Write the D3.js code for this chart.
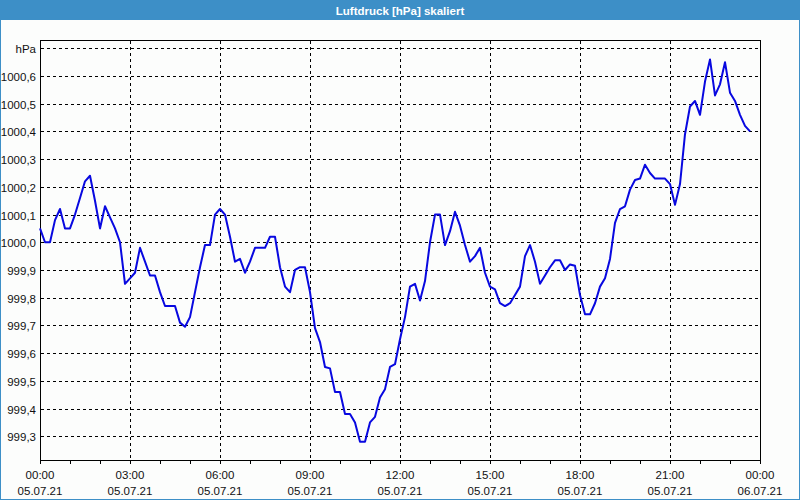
<!DOCTYPE html>
<html>
<head>
<meta charset="utf-8">
<script src="https://cdn.jsdelivr.net/npm/d3@7"></script>
<style>
  html, body { margin: 0; padding: 0; background: #fcfdfc; }
  svg { display: block; }
</style>
</head>
<body>
<svg id="chart" width="800" height="500"></svg>
<script>
const title = "Luftdruck [hPa] skaliert";
const unitLabel = "hPa";
// start time and sampling step (minutes)
const startTime = new Date(2021, 6, 5, 0, 0);
const stepMinutes = 10;
// pressure values, one every 10 minutes from 05.07.21 00:00
const pressure = [
  1000.05, 1000.00, 1000.00, 1000.08, 1000.12, 1000.05, 1000.05, 1000.10, 1000.16, 1000.22,
  1000.24, 1000.15, 1000.05, 1000.13, 1000.09, 1000.05, 1000.00, 999.85, 999.87, 999.89,
  999.98, 999.93, 999.88, 999.88, 999.82, 999.77, 999.77, 999.77, 999.71, 999.695,
  999.73, 999.82, 999.91, 999.99, 999.99, 1000.10, 1000.12, 1000.10, 1000.02, 999.93,
  999.94, 999.89, 999.93, 999.98, 999.98, 999.98, 1000.02, 1000.02, 999.91, 999.84,
  999.82, 999.90, 999.91, 999.91, 999.82, 999.69, 999.64, 999.55, 999.545, 999.46,
  999.46, 999.38, 999.38, 999.35, 999.28, 999.28, 999.35, 999.37, 999.44, 999.47,
  999.55, 999.56, 999.65, 999.73, 999.84, 999.85, 999.79, 999.86, 1000.00, 1000.10,
  1000.10, 999.99, 1000.04, 1000.11, 1000.06, 999.99, 999.93, 999.95, 999.98, 999.89,
  999.84, 999.83, 999.78, 999.77, 999.78, 999.81, 999.84, 999.95, 999.99, 999.93,
  999.85, 999.88, 999.91, 999.935, 999.935, 999.90, 999.92, 999.915, 999.81, 999.74,
  999.74, 999.78, 999.84, 999.87, 999.94, 1000.07, 1000.12, 1000.13, 1000.19, 1000.225,
  1000.23, 1000.28, 1000.25, 1000.23, 1000.23, 1000.23, 1000.21, 1000.135, 1000.21, 1000.39,
  1000.49, 1000.51, 1000.46, 1000.58, 1000.66, 1000.53, 1000.57, 1000.65, 1000.54, 1000.51,
  1000.46, 1000.42, 1000.40
];
const yTicks = [999.3, 999.4, 999.5, 999.6, 999.7, 999.8, 999.9, 1000.0, 1000.1, 1000.2, 1000.3, 1000.4, 1000.5, 1000.6, 1000.7];
const yDomain = [999.2125, 1000.73];
const xDomain = [new Date(2021, 6, 5, 0, 0), new Date(2021, 6, 6, 0, 0)];

const svg = d3.select("#chart");
const W = 800, H = 500;
const m = { left: 40, right: 40, top: 40, bottom: 39.5 };

// window chrome
svg.append("rect").attr("x", 0).attr("y", 0).attr("width", W).attr("height", H).attr("fill", "#fcfdfc");
svg.append("rect").attr("x", 0).attr("y", 0).attr("width", W).attr("height", 20).attr("fill", "#3d8fc7");
svg.append("rect").attr("x", 0.5).attr("y", 0.5).attr("width", W - 1).attr("height", H - 1)
  .attr("fill", "none").attr("stroke", "#3d8fc7").attr("stroke-width", 1);
svg.append("text").attr("x", 400).attr("y", 14.5).attr("text-anchor", "middle")
  .attr("fill", "#ffffff").attr("font-family", "Liberation Sans, Arial, sans-serif")
  .attr("font-weight", "bold").attr("font-size", 11.5).text(title);

const data = pressure.map((v, i) => ({ t: new Date(startTime.getTime() + i * stepMinutes * 60000), v }));

const x = d3.scaleTime().domain(xDomain).range([40, 760]);
const y = d3.scaleLinear().domain(yDomain).range([460.5, 40]);

const font = "Liberation Sans, Arial, sans-serif";

// grid
const g = svg.append("g").attr("shape-rendering", "crispEdges");
g.selectAll(".hg").data(yTicks).join("line")
  .attr("x1", 41).attr("x2", 760)
  .attr("y1", d => Math.round(y(d)) + 0.5).attr("y2", d => Math.round(y(d)) + 0.5)
  .attr("stroke", "#000").attr("stroke-dasharray", "3,3");
const vTicks = d3.range(3, 24, 3).map(h => new Date(2021, 6, 5, h, 0));
g.selectAll(".vg").data(vTicks).join("line")
  .attr("x1", d => Math.round(x(d)) + 0.5).attr("x2", d => Math.round(x(d)) + 0.5)
  .attr("y1", 41).attr("y2", 460)
  .attr("stroke", "#000").attr("stroke-dasharray", "3,3");

// frame (top, right, left, bottom)
g.append("rect").attr("x", 40.5).attr("y", 40.5).attr("width", 719.5).attr("height", 420)
  .attr("fill", "none").attr("stroke", "#000");

// x axis
const xAxis = d3.axisBottom(x)
  .ticks(d3.timeHour.every(1))
  .tickSize(3)
  .tickFormat(() => "");
const xa = svg.append("g").attr("transform", "translate(0,460.5)").call(xAxis);
xa.select(".domain").remove();
xa.selectAll(".tick line").attr("stroke", "#000").attr("shape-rendering", "crispEdges");

const labelTicks = d3.range(0, 25, 3).map(h => new Date(2021, 6, 5, h, 0));
const fmtT = d3.timeFormat("%H:%M"), fmtD = d3.timeFormat("%d.%m.%y");
const lbl = svg.append("g").attr("font-family", font).attr("font-size", 11.5).attr("fill", "#111");
lbl.selectAll(".t1").data(labelTicks).join("text")
  .attr("x", d => x(d)).attr("y", 479).attr("text-anchor", "middle").text(d => fmtT(d));
lbl.selectAll(".t2").data(labelTicks).join("text")
  .attr("x", d => x(d)).attr("y", 495).attr("text-anchor", "middle").text(d => fmtD(d));

// y labels
const fmtY = v => d3.format(".1f")(v).replace(".", ",");
lbl.selectAll(".yl").data(yTicks).join("text")
  .attr("x", 36).attr("y", d => Math.round(y(d)) + 4.5).attr("text-anchor", "end")
  .text(d => Math.abs(d - 1000.7) < 1e-6 ? unitLabel : fmtY(d));

// line
const line = d3.line().x(d => x(d.t)).y(d => y(d.v));
svg.append("path").datum(data).attr("d", line)
  .attr("fill", "none").attr("stroke", "#0808e0").attr("stroke-width", 2)
  .attr("stroke-linejoin", "round");
</script>
</body>
</html>
